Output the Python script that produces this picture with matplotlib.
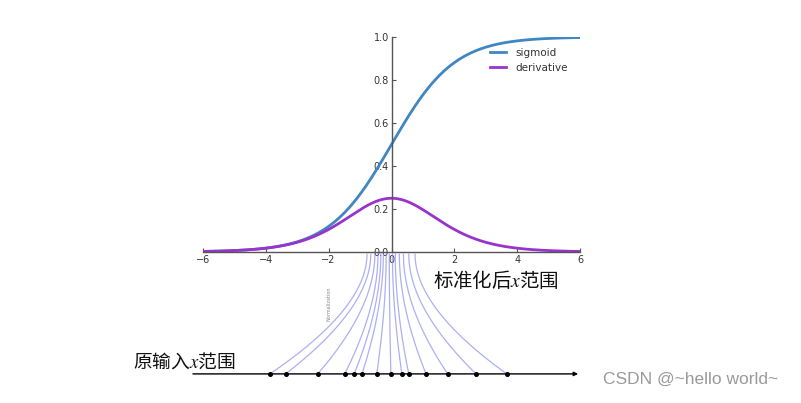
import numpy as np
import matplotlib
matplotlib.use("Agg")
import matplotlib.pyplot as plt

plt.rcParams["mathtext.fontset"] = "stix"

# ---- data ----
x_min, x_max = -6, 6
xticks = [-6, -4, -2, 0, 2, 4, 6]
yticks = [0.0, 0.2, 0.4, 0.6, 0.8, 1.0]
series_names = ["sigmoid", "derivative"]
# original input x positions (bottom axis), in x units
raw_x = [-3.87, -3.37, -2.35, -1.49, -1.19, -0.94, -0.47, -0.02, 0.33, 0.55, 1.10, 1.79, 2.69, 3.67]
# normalized x positions (just below the plot's x axis)
norm_x = [-0.78, -0.66, -0.53, -0.43, -0.34, -0.26, -0.17, -0.07, 0.03, 0.12, 0.25, 0.38, 0.55, 0.75]
raw_level = -0.567
norm_level = -0.01
arrow_span = [-6.32, 5.94]

label_norm = "标准化后$\\mathit{x}$范围"
label_raw = "原输入$\\mathit{x}$范围"

fig = plt.figure(figsize=(8.01, 4.03), dpi=100)
W, H = 801, 403
ax = fig.add_axes([203 / W, (H - 252) / H, (580 - 203) / W, (252 - 37) / H])

xs = np.linspace(x_min, x_max, 400)
sig = 1 / (1 + np.exp(-xs))
der = sig * (1 - sig)
ax.plot(xs, sig, color="#3f86c2", lw=2.0, label=series_names[0])
ax.plot(xs, der, color="#9933cc", lw=2.0, label=series_names[1])
ax.set_xlim(x_min, x_max)
ax.set_ylim(0, 1)

for s in ["top", "right"]:
    ax.spines[s].set_visible(False)
ax.spines["left"].set_position(("data", 0))
ax.spines["bottom"].set_position(("data", 0))
for s in ["left", "bottom"]:
    ax.spines[s].set_color("#555555")
    ax.spines[s].set_linewidth(1.0)
ax.set_xticks(xticks)
ax.set_yticks(yticks)
ax.set_xticklabels([str(t).replace("-", "\u2212") for t in xticks])
ax.set_yticklabels([f"{t:.1f}" for t in yticks])
ax.tick_params(direction="in", length=3, width=0.8, color="#555555",
               labelsize=7, labelcolor="#333333", pad=2)
ax.patch.set_alpha(0)

leg = ax.legend(loc="upper left", bbox_to_anchor=(0.745, 0.98), frameon=False,
                fontsize=7.5, handlelength=1.5, handletextpad=0.9,
                labelspacing=0.5, borderaxespad=0.2)
for t in leg.get_texts():
    t.set_color("#333333")

# normalization lines (quadratic Bezier curves from raw point to normalized point)
tt = np.linspace(0, 1, 60)
for xb, xt in zip(raw_x, norm_x):
    p0 = np.array([xb, raw_level])
    p2 = np.array([xt, norm_level])
    p1 = np.array([xt, raw_level + 0.55 * (norm_level - raw_level)])
    pts = ((1 - tt) ** 2)[:, None] * p0 + (2 * (1 - tt) * tt)[:, None] * p1 + (tt ** 2)[:, None] * p2
    ax.plot(pts[:, 0], pts[:, 1], color="#8c8cf0", lw=0.9, alpha=0.7, clip_on=False)

ax.annotate("", xy=(arrow_span[1], raw_level), xytext=(arrow_span[0], raw_level),
            arrowprops=dict(arrowstyle="-|>", color="black", lw=1.0,
                            mutation_scale=6, shrinkA=0, shrinkB=0),
            annotation_clip=False)
ax.plot(raw_x, [raw_level] * len(raw_x), "o", color="black", ms=2.6, clip_on=False)

ax.text(-1.99, -0.242, "Normalization", rotation=90, fontsize=3.5, color="#888888",
        ha="center", va="center")
cjk = ["Noto Sans CJK SC", "DejaVu Serif"]
ax.text(1.32, -0.135, label_norm, fontsize=14, family=cjk, ha="left", va="center",
        color="#111111")
ax.text(-8.23, -0.512, label_raw, fontsize=13.5, family=cjk, ha="left", va="center",
        color="#111111")

fig.text(603 / W, (H - 379) / H, "CSDN @~hello world~", fontsize=12.5,
         family="Liberation Sans", color="#9a9a9a", ha="left", va="center")

fig.savefig("out.png", dpi=100)
